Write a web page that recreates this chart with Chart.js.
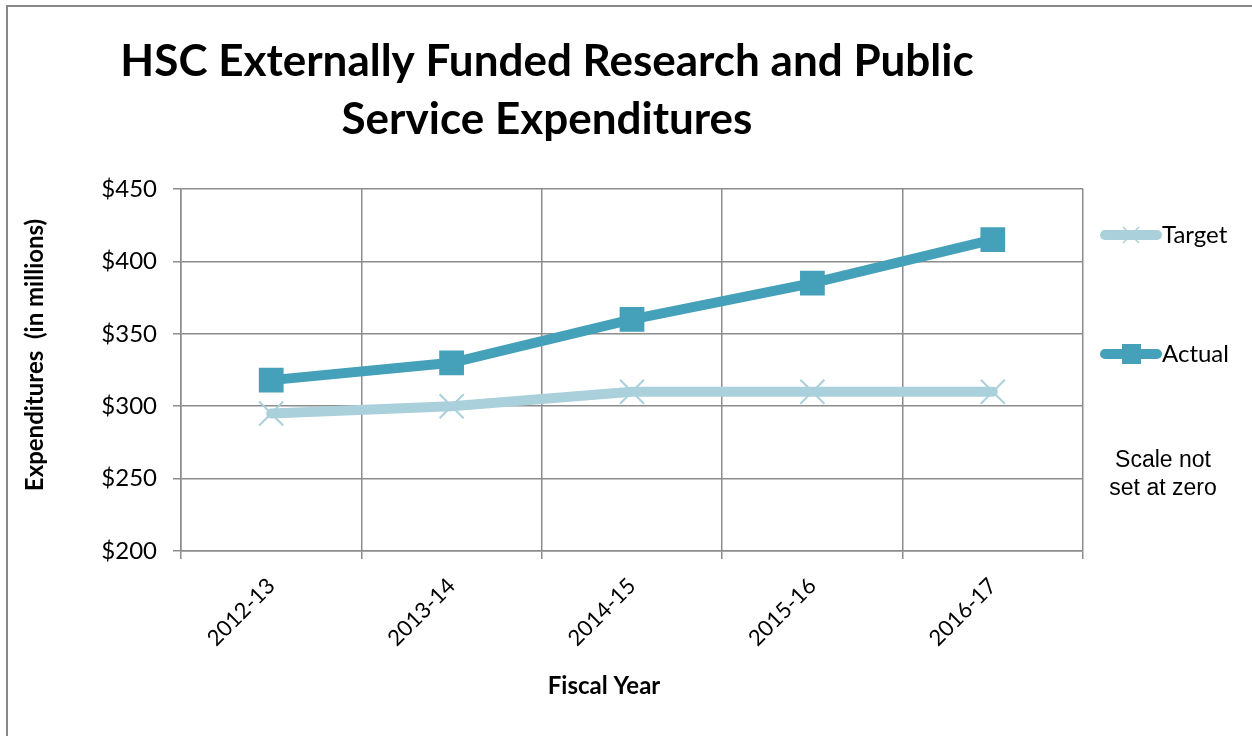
<!DOCTYPE html>
<html>
<head>
<meta charset="utf-8">
<script src="https://cdn.jsdelivr.net/npm/chart.js@4/dist/chart.umd.min.js"></script>
<style>
html,body{margin:0;padding:0;background:#fff;}
#wrap{position:relative;width:1252px;height:736px;}
</style>
</head>
<body>
<div id="wrap"><canvas id="c" width="1252" height="736"></canvas></div>
<script>
const categories = ['2012-13', '2013-14', '2014-15', '2015-16', '2016-17'];
const targetValues = [295, 300, 310, 310, 310];
const actualValues = [318, 330, 360, 385, 415];
const titleLines = ['HSC Externally Funded Research and Public', 'Service Expenditures'];
const yTitle = 'Expenditures  (in millions)';
const xTitle = 'Fiscal Year';
const noteLines = ['Scale not', 'set at zero'];

const ACTUAL = '#45A0B9';
const TARGET = '#AAD0DB';
const GRID = '#8c8c8c';
const CAL = 'Lato, "Open Sans", sans-serif';
const ARIAL = '"Liberation Sans", Arial, sans-serif';

const decor = {
  id: 'decor',
  afterDraw(chart) {
    const ctx = chart.ctx;
    ctx.save();
    // outer border
    ctx.strokeStyle = '#888';
    ctx.lineWidth = 2;
    ctx.beginPath();
    ctx.moveTo(7, 740); ctx.lineTo(7, 6); ctx.lineTo(1260, 6);
    ctx.stroke();
    // title
    ctx.fillStyle = '#000';
    ctx.textAlign = 'center';
    ctx.textBaseline = 'alphabetic';
    ctx.font = 'bold 44px ' + CAL;
    ctx.fillText(titleLines[0], 547, 76);
    ctx.fillText(titleLines[1], 547, 134);
    // y title
    ctx.save();
    ctx.translate(35, 355);
    ctx.rotate(-Math.PI / 2);
    ctx.font = 'bold 24px ' + CAL;
    ctx.textBaseline = 'middle';
    ctx.fillText(yTitle, 0, 0);
    ctx.restore();
    // x title
    ctx.font = 'bold 24px ' + CAL;
    ctx.textBaseline = 'middle';
    ctx.fillText(xTitle, 604, 686);
    // note
    ctx.font = '23px ' + ARIAL;
    ctx.fillText(noteLines[0], 1163, 461);
    ctx.fillText(noteLines[1], 1163, 489);
    // legend
    const items = [
      {label: chart.data.datasets[0].label, color: TARGET, y: 235, marker: 'x'},
      {label: chart.data.datasets[1].label, color: ACTUAL, y: 354, marker: 'sq'}
    ];
    items.forEach(it => {
      ctx.strokeStyle = it.color;
      ctx.lineWidth = 10;
      ctx.lineCap = 'round';
      ctx.beginPath();
      ctx.moveTo(1105, it.y); ctx.lineTo(1157, it.y);
      ctx.stroke();
      if (it.marker === 'sq') {
        ctx.fillStyle = it.color;
        ctx.fillRect(1122, it.y - 10, 19, 20);
      } else {
        ctx.lineWidth = 1.5;
        ctx.lineCap = 'butt';
        ctx.beginPath();
        ctx.moveTo(1123, it.y - 8); ctx.lineTo(1139, it.y + 8);
        ctx.moveTo(1123, it.y + 8); ctx.lineTo(1139, it.y - 8);
        ctx.stroke();
      }
      ctx.fillStyle = '#000';
      ctx.textAlign = 'left';
      ctx.textBaseline = 'middle';
      ctx.font = '24px ' + CAL;
      ctx.fillText(it.label, 1162, it.y);
    });
    ctx.restore();
  }
};

new Chart(document.getElementById('c'), {
  type: 'line',
  data: {
    labels: categories,
    datasets: [
      {
        label: 'Target',
        data: targetValues,
        borderColor: TARGET,
        backgroundColor: TARGET,
        borderWidth: 10,
        pointStyle: 'crossRot',
        pointRadius: 17,
        pointBorderWidth: 2,
        pointBorderColor: TARGET,
        borderCapStyle: 'round',
        tension: 0
      },
      {
        label: 'Actual',
        data: actualValues,
        borderColor: ACTUAL,
        backgroundColor: ACTUAL,
        borderWidth: 10,
        pointStyle: 'rect',
        pointRadius: 17.5,
        pointBorderWidth: 0,
        pointBackgroundColor: ACTUAL,
        borderCapStyle: 'round',
        tension: 0
      }
    ]
  },
  options: {
    responsive: false,
    animation: false,
    devicePixelRatio: 1,
    layout: {padding: {left: 0, top: 189, right: 169, bottom: 0}},
    plugins: {legend: {display: false}, title: {display: false}, tooltip: {enabled: false}},
    scales: {
      x: {
        offset: true,
        grid: {offset: true, color: GRID, lineWidth: 1.5, tickLength: 8, drawTicks: true},
        border: {color: GRID, width: 1.5},
        ticks: {
          minRotation: 45, maxRotation: 45,
          color: '#000',
          font: {family: CAL, size: 22},
          padding: 14
        },
        afterFit(s) { s.height = 185; }
      },
      y: {
        min: 200, max: 450,
        grid: {color: GRID, lineWidth: 1.5, tickLength: 8},
        border: {color: GRID, width: 1.5},
        ticks: {
          stepSize: 50,
          color: '#000',
          font: {family: CAL, size: 24},
          padding: 16,
          callback: v => '$' + v
        },
        afterFit(s) { s.width = 181; }
      }
    }
  },
  plugins: [decor]
});
</script>
</body>
</html>
